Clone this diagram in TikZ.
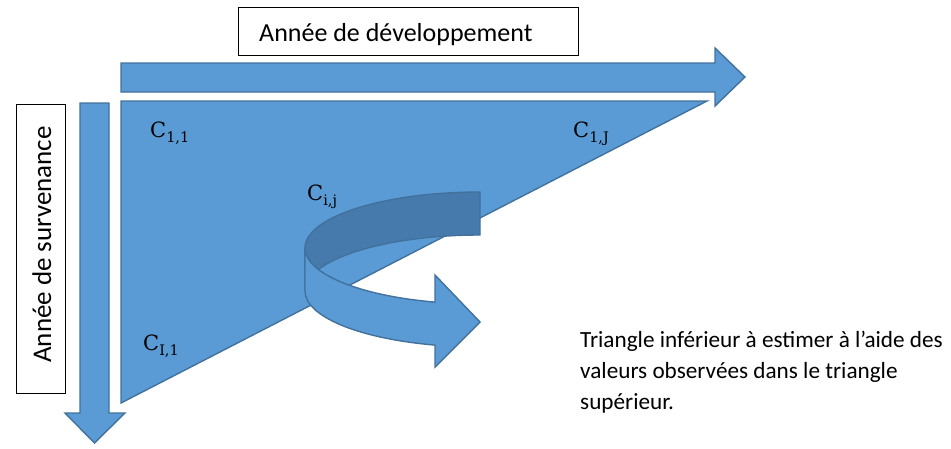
\documentclass[tikz,border=0pt]{standalone}
\usepackage[no-math]{fontspec}
\setmainfont{Carlito}
\newfontfamily\cfont{DejaVu Serif}
\newcommand{\clab}[2]{{\cfont\fontsize{21}{24}\selectfont #1\raisebox{-5pt}{\fontsize{14.5}{16}\selectfont #2}}}
\begin{document}
\begin{tikzpicture}[x=1pt,y=1pt,
  blueshape/.style={fill=officeblue,draw=officeedge,line width=1.4pt,line join=miter},
  darkshape/.style={fill=officedark,draw=officeedge,line width=1.4pt},
  labelbox/.style={draw=black,fill=white,line width=1.2pt},
  clabel/.style={anchor=base west,inner sep=0pt},
  bodytext/.style={inner sep=0pt,font=\fontsize{23.2}{31}\selectfont}]
\definecolor{officeblue}{RGB}{91,155,213}
\definecolor{officeedge}{RGB}{65,113,156}
\definecolor{officedark}{RGB}{71,122,172}
\useasboundingbox (0,0) rectangle (951,-448);
% horizontal arrow
\draw[blueshape] (121,-63) -- (715,-63) -- (715,-48) -- (745,-77) -- (715,-106) -- (715,-92) -- (121,-92) -- cycle;
% vertical arrow
\draw[blueshape] (80,-103) -- (109,-103) -- (109,-413) -- (125,-413) -- (94.5,-443) -- (65,-413) -- (80,-413) -- cycle;
% triangle
\draw[blueshape] (121,-101) -- (707,-101) -- (121,-403) -- cycle;
% curved arrow: back band
\draw[darkshape] (480,-192) arc[start angle=90,end angle=180,x radius=175,y radius=56]
  -- (305,-291) arc[start angle=180,end angle=90,x radius=175,y radius=56] -- cycle;
% front band with head
\draw[blueshape] (305,-248) arc[start angle=180,end angle=255.1,x radius=175,y radius=56]
  -- (435,-275) -- (480,-322) -- (435,-367) -- (435,-345.1)
  arc[start angle=255.1,end angle=180,x radius=175,y radius=56] -- cycle;
% boxes
\node[labelbox,minimum width=340pt,minimum height=48pt,anchor=north west,inner sep=0pt] (dev) at (238,-7) {};
\node[inner sep=0pt,anchor=base west,font=\fontsize{26}{30}\selectfont] (devt) at (259,-41) {Année de développement};
\node[labelbox,minimum width=49pt,minimum height=289pt,anchor=north west,inner sep=0pt] (surv) at (16,-104) {};
\node[inner sep=0pt,rotate=90,anchor=base west,font=\fontsize{27}{30}\selectfont] (survt) at (51,-363) {Année de survenance};
% labels
\node[clabel] (c11) at (150,-137) {\clab{C}{1,1}};
\node[clabel] (c1j) at (573,-137) {\clab{C}{1,J}};
\node[clabel] (cij) at (307,-200) {\clab{C}{i,j}};
\node[clabel] (ci1) at (143,-350) {\clab{C}{I,1}};
% text
\node[bodytext,anchor=north west,align=left] (txt) at (580,-331) {Triangle inférieur à estimer à l’aide des\\valeurs observées dans le triangle\\supérieur.};
\end{tikzpicture}
\end{document}
